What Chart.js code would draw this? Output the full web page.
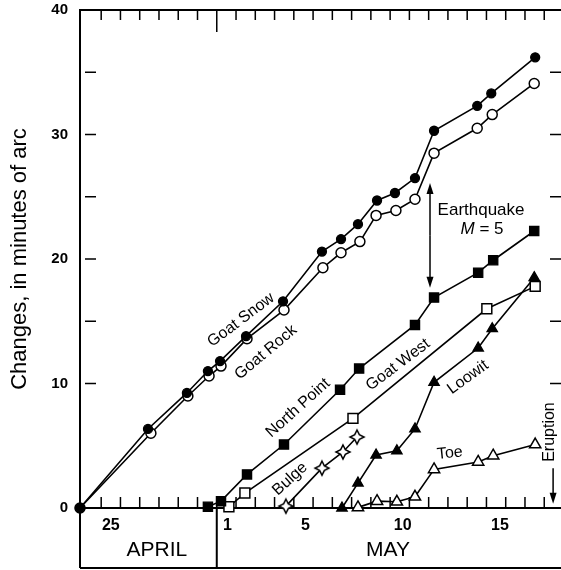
<!DOCTYPE html>
<html>
<head>
<meta charset="utf-8">
<script src="https://cdn.jsdelivr.net/npm/chart.js@4.4.1/dist/chart.umd.min.js"></script>
<style>
  body { margin: 0; background: #fff; }
  canvas { display: block; }
</style>
</head>
<body>
<canvas id="grafico" width="561" height="570"></canvas>
<script>
// dias contados desde el 1 de mayo a las 00:00 (negativo = abril)
const goatSnowDias = [-7.1, -3.57, -1.55, -0.46, 0.17, 1.52, 3.44, 5.46, 6.45, 7.33, 8.32, 9.25, 10.29, 11.28, 13.52, 14.25, 16.53];
const goatSnowValores = [0, 6.35, 9.24, 11.0, 11.8, 13.8, 16.6, 20.6, 21.6, 22.8, 24.7, 25.3, 26.5, 30.3, 32.3, 33.3, 36.2];

const goatRockDias = [-7.1, -3.42, -1.5, -0.4, 0.22, 1.57, 3.49, 5.51, 6.45, 7.43, 8.27, 9.3, 10.29, 11.28, 13.52, 14.3, 16.48];
const goatRockValores = [0, 6.0, 9.0, 10.6, 11.4, 13.6, 15.9, 19.3, 20.5, 21.4, 23.5, 23.9, 24.8, 28.5, 30.5, 31.6, 34.1];

const northPointDias = [-0.46, 0.22, 1.57, 3.49, 6.4, 7.39, 10.29, 11.28, 13.57, 14.35, 16.48];
const northPointValores = [0.1, 0.55, 2.7, 5.1, 9.5, 11.2, 14.7, 16.9, 18.9, 19.9, 22.25];

const goatWestDias = [0.63, 1.46, 7.07, 14.02, 16.53];
const goatWestValores = [0.1, 1.2, 7.2, 16.0, 17.8];

const bulgeDias = [3.59, 5.46, 6.55, 7.28];
const bulgeValores = [0.15, 3.2, 4.5, 5.7];

const loowitDias = [6.5, 7.33, 8.27, 9.35, 10.29, 11.28, 13.57, 14.3, 16.48];
const loowitValores = [0, 2.0, 4.25, 4.6, 6.35, 10.1, 12.85, 14.4, 18.5];

const toeDias = [7.33, 8.32, 9.35, 10.29, 11.28, 13.57, 14.35, 16.53];
const toeValores = [0.05, 0.55, 0.5, 0.9, 3.1, 3.7, 4.2, 5.1];

// ejes
const valoresEjeY = [0, 10, 20, 30, 40];
const marcasY = [10, 15, 20, 25, 30, 35];
const etiquetasDia = ['25', '1', '5', '10', '15'];
const posicionEtiquetasDia = [-5.5, 0.55, 4.6, 9.65, 14.7];
const limitesDia = [-6, -5, -4, -3, -2, -1, 0, 1, 2, 3, 4, 5, 6, 7, 8, 9, 10, 11, 12, 13, 14, 15, 16, 17];
const meses = ['APRIL', 'MAY'];
const posicionMeses = [-3.11, 8.89];

const fuente = "'Liberation Sans', Arial, sans-serif";

const etiquetasSeries = [
    { texto: 'Goat Snow', x: 1.26, y: 15.1, angulo: -37 },
    { texto: 'Goat Rock', x: 2.55, y: 12.5, angulo: -40 },
    { texto: 'North Point', x: 4.22, y: 8.03, angulo: -42 },
    { texto: 'Goat West', x: 9.41, y: 11.5, angulo: -37 },
    { texto: 'Bulge', x: 3.8, y: 2.33, angulo: -42 },
    { texto: 'Loowit', x: 13.04, y: 10.5, angulo: -36 },
    { texto: 'Toe', x: 12.1, y: 4.4, angulo: -6 },
    { texto: 'Eruption', x: 17.3, y: 6.1, angulo: -90 }
];

function crearEstrella() {
    const c = document.createElement('canvas');
    c.width = 18;
    c.height = 18;
    const g = c.getContext('2d');
    g.beginPath();
    for (let i = 0; i < 8; i++) {
        const r = i % 2 === 0 ? 7 : 3.3;
        const ang = -Math.PI / 2 + i * Math.PI / 4;
        const px = 9 + r * Math.cos(ang);
        const py = 9 + r * Math.sin(ang);
        if (i === 0) g.moveTo(px, py); else g.lineTo(px, py);
    }
    g.closePath();
    g.fillStyle = '#fff';
    g.fill();
    g.lineWidth = 1.5;
    g.strokeStyle = '#000';
    g.stroke();
    return c;
}

function serie(label, dias, valores, estilo) {
    return Object.assign({
        label,
        data: dias.map((d, i) => ({ x: d, y: valores[i] })),
        borderColor: '#000',
        borderWidth: 1.6,
        tension: 0,
        clip: false,
        pointBorderColor: '#000',
        pointBorderWidth: 1.3
    }, estilo);
}

function flecha(ctx, x, y1, y2) {
    const dir = y2 > y1 ? 1 : -1;
    ctx.beginPath();
    ctx.moveTo(x, y1);
    ctx.lineTo(x, y2 - dir * 6);
    ctx.stroke();
    ctx.beginPath();
    ctx.moveTo(x, y2);
    ctx.lineTo(x - 3.5, y2 - dir * 11);
    ctx.lineTo(x + 3.5, y2 - dir * 11);
    ctx.closePath();
    ctx.fill();
}

const marcoPlugin = {
    id: 'marco',
    beforeDatasetsDraw(chart) {
        const { ctx, chartArea: a, scales: { x, y } } = chart;
        const base = y.getPixelForValue(0);
        const fondo = chart.height - 2;
        const mayo = x.getPixelForValue(0);
        ctx.save();
        ctx.strokeStyle = '#000';
        ctx.lineWidth = 2;
        ctx.beginPath();
        ctx.moveTo(a.left, fondo);
        ctx.lineTo(a.left, a.top);
        ctx.lineTo(a.right, a.top);
        ctx.moveTo(a.left, base);
        ctx.lineTo(a.right, base);
        ctx.moveTo(a.left, fondo);
        ctx.lineTo(a.right, fondo);
        ctx.moveTo(mayo, base);
        ctx.lineTo(mayo, fondo);
        ctx.stroke();

        ctx.lineWidth = 1.5;
        ctx.beginPath();
        limitesDia.forEach(d => {
            const px = x.getPixelForValue(d);
            const largo = d === 0 ? 22 : 10;
            ctx.moveTo(px, a.top);
            ctx.lineTo(px, a.top + largo);
            ctx.moveTo(px, base);
            ctx.lineTo(px, base - 11);
        });
        marcasY.forEach(v => {
            const py = y.getPixelForValue(v);
            ctx.moveTo(a.left + 5, py);
            ctx.lineTo(a.left + 16, py);
            ctx.moveTo(a.right - 11, py);
            ctx.lineTo(a.right, py);
        });
        ctx.stroke();

        ctx.fillStyle = '#000';
        ctx.font = '21px ' + fuente;
        ctx.textAlign = 'center';
        ctx.textBaseline = 'middle';
        meses.forEach((m, i) => {
            ctx.fillText(m, x.getPixelForValue(posicionMeses[i]), 550);
        });
        ctx.restore();
    },
    afterDatasetsDraw(chart) {
        const { ctx, scales: { x, y } } = chart;
        ctx.save();
        ctx.fillStyle = '#000';
        ctx.strokeStyle = '#000';
        ctx.textAlign = 'center';
        ctx.textBaseline = 'middle';
        ctx.font = '16px ' + fuente;
        etiquetasSeries.forEach(e => {
            ctx.save();
            ctx.translate(x.getPixelForValue(e.x), y.getPixelForValue(e.y));
            ctx.rotate(e.angulo * Math.PI / 180);
            ctx.fillText(e.texto, 0, 0);
            ctx.restore();
        });

        // sismo
        ctx.font = '17px ' + fuente;
        ctx.fillText('Earthquake', x.getPixelForValue(13.72), y.getPixelForValue(23.9));
        const cx = x.getPixelForValue(13.77);
        const cy = y.getPixelForValue(22.4);
        ctx.font = 'italic 17px ' + fuente;
        const wM = ctx.measureText('M').width;
        ctx.font = '17px ' + fuente;
        const wResto = ctx.measureText(' = 5').width;
        const inicio = cx - (wM + wResto) / 2;
        ctx.textAlign = 'left';
        ctx.font = 'italic 17px ' + fuente;
        ctx.fillText('M', inicio, cy);
        ctx.font = '17px ' + fuente;
        ctx.fillText(' = 5', inicio + wM, cy);

        ctx.lineWidth = 1.5;
        const xs = x.getPixelForValue(11.07);
        const y1 = y.getPixelForValue(26.1);
        const y2 = y.getPixelForValue(17.7);
        const yMedio = (y1 + y2) / 2;
        flecha(ctx, xs, yMedio, y1);
        flecha(ctx, xs, yMedio, y2);

        // erupcion
        flecha(ctx, x.getPixelForValue(17.46), y.getPixelForValue(3.2), y.getPixelForValue(0.35));
        ctx.restore();
    }
};

document.addEventListener('DOMContentLoaded', () => {
    const ctx = document.getElementById('grafico').getContext('2d');
    const estrella = crearEstrella();

    new Chart(ctx, {
        type: 'line',
        data: {
            datasets: [
                serie('Goat Snow', goatSnowDias, goatSnowValores, { pointStyle: 'circle', pointRadius: 4.5, pointBackgroundColor: '#000' }),
                serie('Goat Rock', goatRockDias, goatRockValores, { pointStyle: 'circle', pointRadius: 5, pointBackgroundColor: '#fff', pointBorderWidth: 1.5 }),
                serie('North Point', northPointDias, northPointValores, { pointStyle: 'rect', pointRadius: 6.5, pointBackgroundColor: '#000' }),
                serie('Goat West', goatWestDias, goatWestValores, { pointStyle: 'rect', pointRadius: 7, pointBackgroundColor: '#fff', pointBorderWidth: 1.5 }),
                serie('Bulge', bulgeDias, bulgeValores, { pointStyle: estrella, pointRadius: 7 }),
                serie('Loowit', loowitDias, loowitValores, { pointStyle: 'triangle', pointRadius: 6, pointBackgroundColor: '#000' }),
                serie('Toe', toeDias, toeValores, { pointStyle: 'triangle', pointRadius: 6.5, pointBackgroundColor: '#fff', pointBorderWidth: 1.5 })
            ]
        },
        options: {
            responsive: false,
            devicePixelRatio: 1,
            animation: false,
            layout: { autoPadding: false, padding: { top: 10, left: 0, right: 0, bottom: 0 } },
            plugins: {
                legend: { display: false },
                tooltip: { enabled: false }
            },
            scales: {
                x: {
                    type: 'linear',
                    min: -7.1,
                    max: 17.87,
                    afterBuildTicks: s => { s.ticks = posicionEtiquetasDia.map(v => ({ value: v })); },
                    afterFit: s => { s.height = 62; s.paddingLeft = 0; s.paddingRight = 0; },
                    ticks: {
                        autoSkip: false,
                        maxRotation: 0,
                        minRotation: 0,
                        padding: 8,
                        color: '#000',
                        font: { family: fuente, size: 16, weight: 'bold' },
                        callback: (v, i) => etiquetasDia[i]
                    },
                    grid: { display: false, drawTicks: false },
                    border: { display: false }
                },
                y: {
                    type: 'linear',
                    min: 0,
                    max: 40,
                    afterBuildTicks: s => { s.ticks = valoresEjeY.map(v => ({ value: v })); },
                    afterFit: s => { s.width = 80; s.paddingTop = 0; s.paddingBottom = 0; },
                    ticks: {
                        padding: 12,
                        color: '#000',
                        font: { family: fuente, size: 15, weight: 'bold' },
                        callback: v => v
                    },
                    grid: { display: false, drawTicks: false },
                    border: { display: false },
                    title: {
                        display: true,
                        text: 'Changes, in minutes of arc',
                        color: '#000',
                        font: { family: fuente, size: 22 },
                        padding: { top: 7, bottom: 0 }
                    }
                }
            }
        },
        plugins: [marcoPlugin]
    });
});
</script>
</body>
</html>
